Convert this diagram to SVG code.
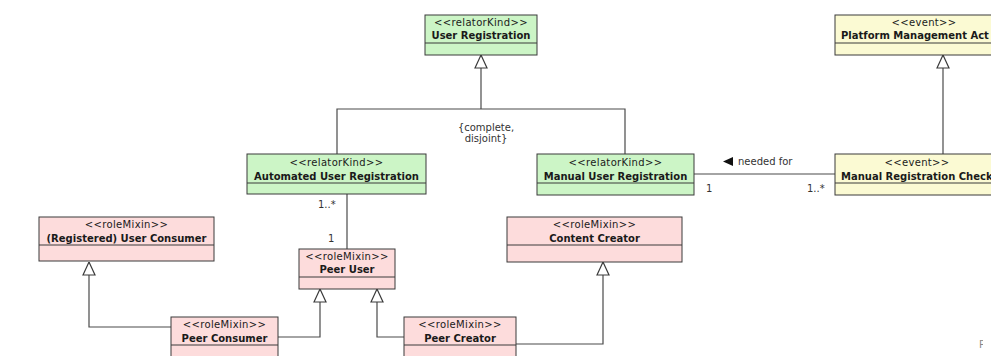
<svg xmlns="http://www.w3.org/2000/svg" width="991" height="356" viewBox="0 0 991 356">
  <style>
    .box { stroke: #3a3a3a; stroke-width: 1; }
    .relator { fill: #ccf5c6; }
    .role { fill: #fddcdc; }
    .event { fill: #fbfad3; }
    .div { stroke: #3a3a3a; stroke-width: 1; }
    text { font-family: "DejaVu Sans", "Liberation Sans", sans-serif; font-size: 10px; fill: #1a1a1a; }
    .st { text-anchor: middle; letter-spacing: 0.35px; }
    .nm { text-anchor: middle; font-weight: bold; }
    .edge { fill: none; stroke: #4a4a4a; stroke-width: 1.2; }
    .lbl { fill: #333; }
  </style>
  <defs>
    <marker id="gen" viewBox="0 0 14 14" refX="13.5" refY="7" markerWidth="14" markerHeight="14" markerUnits="userSpaceOnUse" orient="auto">
      <path d="M0.5,1 L13.5,7 L0.5,13 Z" fill="#fff" stroke="#3a3a3a" stroke-width="1.2"/>
    </marker>
    <clipPath id="edgeClip">
      <rect x="0" y="0" width="983" height="356"/>
    </clipPath>
  </defs>
  <rect width="991" height="356" fill="#fff"/>

  <g id="connectors">
    <!-- generalization set: User Registration -->
    <path class="edge" d="M337,154 V109 H625 V154"/>
    <path class="edge" d="M481,109 V55" marker-end="url(#gen)"/>
    <!-- Manual Registration Check is a Platform Management Act -->
    <path class="edge" d="M943,154 V55" marker-end="url(#gen)"/>
    <!-- role mixin specializations -->
    <path class="edge" d="M171,327 H89 V262" marker-end="url(#gen)"/>
    <path class="edge" d="M278,337 H320 V289" marker-end="url(#gen)"/>
    <path class="edge" d="M404,337 H377 V289" marker-end="url(#gen)"/>
    <path class="edge" d="M516,344 H603 V262" marker-end="url(#gen)"/>
    <!-- associations -->
    <path class="edge" d="M347,194 V249"/>
    <path class="edge" d="M694,174 H835"/>
    <!-- labels -->
    <text class="lbl" x="486" y="131" text-anchor="middle">{complete,</text>
    <text class="lbl" x="486" y="142" text-anchor="middle">disjoint}</text>
    <polygon points="723,161.5 733,157 733,166" fill="#111"/>
    <text class="lbl" x="738" y="165">needed for</text>
    <text class="lbl" x="706" y="192">1</text>
    <text class="lbl" x="807" y="192">1..*</text>
    <text class="lbl" x="318" y="208">1..*</text>
    <text class="lbl" x="328" y="242">1</text>
  </g>

  <g id="user-registration">
    <rect class="box relator" x="425" y="15" width="112" height="40"/>
    <line class="div" x1="425" y1="43" x2="537" y2="43"/>
    <text class="st" x="481" y="26">&lt;&lt;relatorKind&gt;&gt;</text>
    <text class="nm" x="481" y="39">User Registration</text>
  </g>

  <g id="automated-user-registration">
    <rect class="box relator" x="247" y="154" width="179" height="40"/>
    <line class="div" x1="247" y1="183" x2="426" y2="183"/>
    <text class="st" x="336.5" y="166">&lt;&lt;relatorKind&gt;&gt;</text>
    <text class="nm" x="336.5" y="180">Automated User Registration</text>
  </g>

  <g id="manual-user-registration">
    <rect class="box relator" x="537" y="154" width="157" height="41"/>
    <line class="div" x1="537" y1="183" x2="694" y2="183"/>
    <text class="st" x="615.5" y="166">&lt;&lt;relatorKind&gt;&gt;</text>
    <text class="nm" x="615.5" y="180">Manual User Registration</text>
  </g>

  <g id="platform-management-act">
    <rect class="box event" x="835" y="15" width="190" height="40"/>
    <line class="div" x1="835" y1="43" x2="1025" y2="43"/>
    <text class="st" x="924" y="26">&lt;&lt;event&gt;&gt;</text>
    <text x="841" y="39" font-weight="bold">Platform Management Act</text>
  </g>

  <g id="manual-registration-check">
    <rect class="box event" x="835" y="154" width="180" height="41"/>
    <line class="div" x1="835" y1="183" x2="1015" y2="183"/>
    <text class="st" x="917" y="166">&lt;&lt;event&gt;&gt;</text>
    <text x="841" y="180" font-weight="bold">Manual Registration Check</text>
  </g>

  <g id="registered-user-consumer">
    <rect class="box role" x="39" y="217" width="175" height="44"/>
    <line class="div" x1="39" y1="245" x2="214" y2="245"/>
    <text class="st" x="126.5" y="228">&lt;&lt;roleMixin&gt;&gt;</text>
    <text class="nm" x="126.5" y="242">(Registered) User Consumer</text>
  </g>

  <g id="content-creator">
    <rect class="box role" x="507" y="217" width="175" height="45"/>
    <line class="div" x1="507" y1="245" x2="682" y2="245"/>
    <text class="st" x="594.5" y="228">&lt;&lt;roleMixin&gt;&gt;</text>
    <text class="nm" x="594.5" y="242">Content Creator</text>
  </g>

  <g id="peer-user">
    <rect class="box role" x="299" y="249" width="96" height="40"/>
    <line class="div" x1="299" y1="277" x2="395" y2="277"/>
    <text class="st" x="347" y="260">&lt;&lt;roleMixin&gt;&gt;</text>
    <text class="nm" x="347" y="273">Peer User</text>
  </g>

  <g id="peer-consumer">
    <rect class="box role" x="171" y="317" width="107" height="50"/>
    <line class="div" x1="171" y1="345" x2="278" y2="345"/>
    <text class="st" x="224.5" y="328">&lt;&lt;roleMixin&gt;&gt;</text>
    <text class="nm" x="224.5" y="342">Peer Consumer</text>
  </g>

  <g id="peer-creator">
    <rect class="box role" x="404" y="317" width="112" height="50"/>
    <line class="div" x1="404" y1="345" x2="516" y2="345"/>
    <text class="st" x="460" y="328">&lt;&lt;roleMixin&gt;&gt;</text>
    <text class="nm" x="460" y="342">Peer Creator</text>
  </g>

  <text x="979" y="348" font-size="11" clip-path="url(#edgeClip)" style="fill:#888">P</text>
</svg>
